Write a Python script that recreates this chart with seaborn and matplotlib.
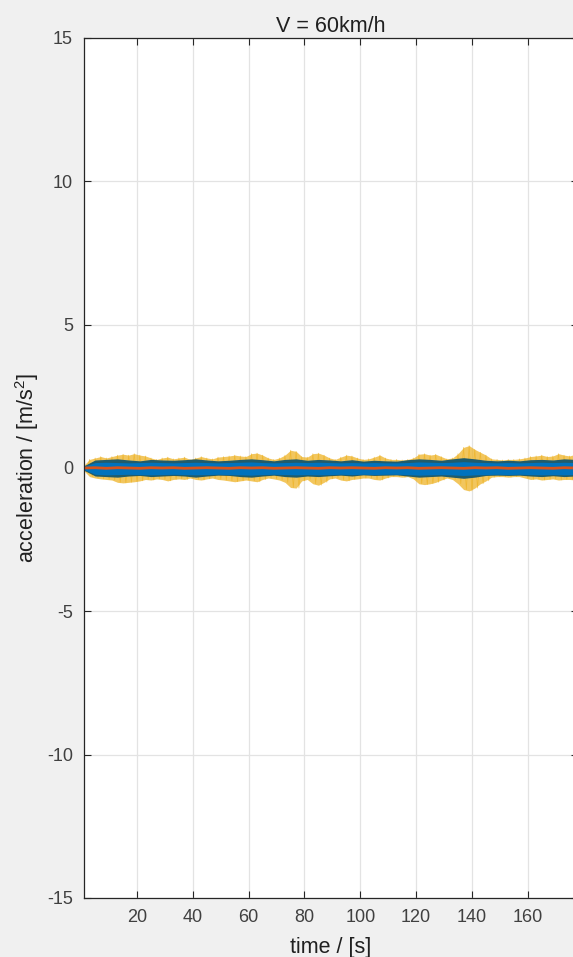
import numpy as np
import pandas as pd
import matplotlib
matplotlib.use("Agg")
import matplotlib.pyplot as plt
import seaborn as sns

# ---------------- data ----------------
title_text = "V = 60km/h"
x_label = "time / [s]"
y_label = "acceleration / [m/s$^2$]"
x_ticks = [20, 40, 60, 80, 100, 120, 140, 160]
y_ticks = [-15, -10, -5, 0, 5, 10, 15]

# yellow series envelope, sampled every 2 s starting at t = 1 s
yellow_hi = [0.10, 0.30, 0.35, 0.40, 0.35, 0.40, 0.45, 0.48, 0.45, 0.50,
             0.45, 0.42, 0.35, 0.30, 0.35, 0.38, 0.32, 0.35, 0.38, 0.30,
             0.35, 0.40, 0.35, 0.32, 0.38, 0.40, 0.42, 0.45, 0.42, 0.40,
             0.50, 0.52, 0.45, 0.35, 0.30, 0.35, 0.45, 0.62, 0.58, 0.40,
             0.38, 0.50, 0.52, 0.45, 0.35, 0.30, 0.38, 0.45, 0.42, 0.35,
             0.30, 0.32, 0.38, 0.45, 0.35, 0.30, 0.30, 0.28, 0.30, 0.35,
             0.48, 0.50, 0.45, 0.48, 0.40, 0.32, 0.35, 0.50, 0.72, 0.78,
             0.65, 0.55, 0.45, 0.32, 0.30, 0.28, 0.30, 0.30, 0.32, 0.35,
             0.40, 0.42, 0.45, 0.40, 0.42, 0.50, 0.45, 0.42, 0.48]
yellow_lo = [0.10, 0.30, 0.35, 0.38, 0.40, 0.42, 0.50, 0.52, 0.50, 0.48,
             0.45, 0.40, 0.42, 0.38, 0.40, 0.45, 0.40, 0.38, 0.40, 0.35,
             0.40, 0.42, 0.38, 0.35, 0.40, 0.42, 0.45, 0.48, 0.45, 0.42,
             0.45, 0.48, 0.40, 0.35, 0.38, 0.42, 0.50, 0.68, 0.70, 0.45,
             0.40, 0.55, 0.60, 0.50, 0.38, 0.35, 0.42, 0.45, 0.40, 0.38,
             0.35, 0.35, 0.40, 0.42, 0.35, 0.30, 0.30, 0.32, 0.30, 0.38,
             0.55, 0.58, 0.55, 0.50, 0.42, 0.35, 0.40, 0.55, 0.75, 0.80,
             0.70, 0.55, 0.45, 0.32, 0.30, 0.30, 0.32, 0.30, 0.30, 0.35,
             0.40, 0.38, 0.42, 0.40, 0.38, 0.42, 0.40, 0.40, 0.42]

# teal / blue / red series envelopes, sampled every 4 s starting at t = 1 s
teal_hi = [0.08, 0.28, 0.30, 0.32, 0.28, 0.25, 0.30, 0.28, 0.27, 0.29,
           0.32, 0.28, 0.25, 0.27, 0.30, 0.32, 0.29, 0.25, 0.30, 0.32,
           0.27, 0.30, 0.28, 0.25, 0.29, 0.24, 0.27, 0.25, 0.24, 0.29,
           0.32, 0.30, 0.27, 0.32, 0.36, 0.32, 0.27, 0.25, 0.27, 0.25,
           0.29, 0.30, 0.28, 0.32, 0.30]
teal_lo = [0.08, 0.28, 0.30, 0.32, 0.28, 0.26, 0.30, 0.28, 0.26, 0.28,
           0.32, 0.28, 0.25, 0.26, 0.30, 0.32, 0.28, 0.25, 0.30, 0.32,
           0.28, 0.30, 0.27, 0.25, 0.28, 0.24, 0.26, 0.25, 0.24, 0.28,
           0.32, 0.30, 0.28, 0.32, 0.36, 0.32, 0.26, 0.25, 0.26, 0.25,
           0.28, 0.30, 0.27, 0.30, 0.28]
blue_hi = [0.06, 0.19, 0.20, 0.19, 0.18, 0.19, 0.20, 0.19, 0.18, 0.19,
           0.20, 0.19, 0.18, 0.19, 0.20, 0.21, 0.19, 0.18, 0.19, 0.20,
           0.19, 0.20, 0.19, 0.18, 0.19, 0.18, 0.19, 0.18, 0.18, 0.19,
           0.21, 0.20, 0.19, 0.20, 0.22, 0.20, 0.19, 0.18, 0.19, 0.18,
           0.19, 0.20, 0.19, 0.20, 0.19]
blue_lo = [0.06, 0.22, 0.24, 0.23, 0.22, 0.23, 0.24, 0.23, 0.22, 0.23,
           0.24, 0.23, 0.22, 0.23, 0.24, 0.25, 0.23, 0.22, 0.23, 0.24,
           0.23, 0.24, 0.23, 0.22, 0.23, 0.22, 0.23, 0.22, 0.22, 0.23,
           0.25, 0.24, 0.23, 0.24, 0.26, 0.24, 0.23, 0.22, 0.23, 0.22,
           0.23, 0.24, 0.23, 0.24, 0.23]
red_vals = [0.00, 0.01, -0.01, 0.01, 0.00, -0.01, 0.01, 0.00, 0.01, -0.01,
            0.00, 0.01, 0.00, -0.01, 0.01, 0.00, 0.01, -0.01, 0.00, 0.01,
            0.00, -0.01, 0.01, 0.00, 0.01, 0.00, -0.01, 0.01, 0.00, 0.01,
            -0.01, 0.00, 0.01, 0.00, -0.01, 0.01, 0.00, 0.01, -0.01, 0.00,
            0.01, 0.00, -0.01, 0.01, 0.00]

t_fine = [1 + 2 * i for i in range(len(yellow_hi))]
t_coarse = [1 + 4 * i for i in range(len(teal_hi))]

# ---------------- style ----------------
sns.set_theme(style="whitegrid")
plt.rcParams['font.family'] = ['Liberation Sans', 'DejaVu Sans']
plt.rcParams['mathtext.fontset'] = 'custom'
plt.rcParams['mathtext.rm'] = 'Liberation Sans'

c_yellow = (0.929, 0.694, 0.125)
c_teal = (0.13, 0.36, 0.42)
c_blue = (0.0, 0.447, 0.741)
c_red = (0.85, 0.325, 0.098)
txt = "#262626"

fig = plt.figure(figsize=(5.73, 9.57), dpi=100, facecolor="#f0f0f0")
ax = fig.add_axes([84 / 573, 1 - 898 / 957, 494 / 573, 860 / 957])
ax.set_facecolor("white")

# yellow
ax.fill_between(t_fine, yellow_hi, [-v for v in yellow_lo], color=c_yellow, lw=0,
                alpha=0.72, zorder=1.0)
zz_x, zz_y = [], []
for ti, h, l in zip(t_fine, yellow_hi, yellow_lo):
    zz_x += [ti, ti + 1]
    zz_y += [h, -l]
sns.lineplot(x=zz_x, y=zz_y, sort=False, estimator=None, color=c_yellow, lw=0.5,
             alpha=0.7, ax=ax, zorder=1.1)

# teal
ax.fill_between(t_coarse, teal_hi, [-v for v in teal_lo], color=c_teal, lw=0, zorder=1.2)

# blue
ax.fill_between(t_coarse, blue_hi, [-v for v in blue_lo], color=c_blue, lw=0, zorder=1.3)

# red
sns.lineplot(x=t_coarse, y=red_vals, color=c_red, lw=2.0, ax=ax, zorder=2)

ax.set_xlim(1, 178)
ax.set_ylim(-15, 15)
ax.set_xticks(x_ticks)
ax.set_yticks(y_ticks)
ax.set_xticklabels([str(v) for v in x_ticks])
ax.set_yticklabels([str(v) for v in y_ticks])

ax.grid(True, color="#e3e3e3", lw=0.9, zorder=0)
ax.set_axisbelow(True)
for s in ax.spines.values():
    s.set_color(txt)
    s.set_linewidth(0.9)
    s.set_visible(True)
ax.tick_params(axis="both", direction="in", length=5, width=0.8, color=txt,
               labelcolor="#404040", labelsize=13, top=True, right=True,
               bottom=True, left=True)
ax.tick_params(axis="x", pad=8)
ax.tick_params(axis="y", pad=8)

ax.set_title(title_text, fontsize=15.5, color="#202020", pad=4)
ax.set_xlabel(x_label, fontsize=15.5, color="#202020")
ax.set_ylabel(y_label, fontsize=15.5, color="#202020")
ax.xaxis.set_label_coords(0.5, -(947 - 898) / 860)
ax.yaxis.set_label_coords(-(84 - 27) / 494, 0.5)
ax.xaxis.label.set_va("center")
ax.yaxis.label.set_va("center")

fig.savefig("out.png", dpi=100, facecolor=fig.get_facecolor())
